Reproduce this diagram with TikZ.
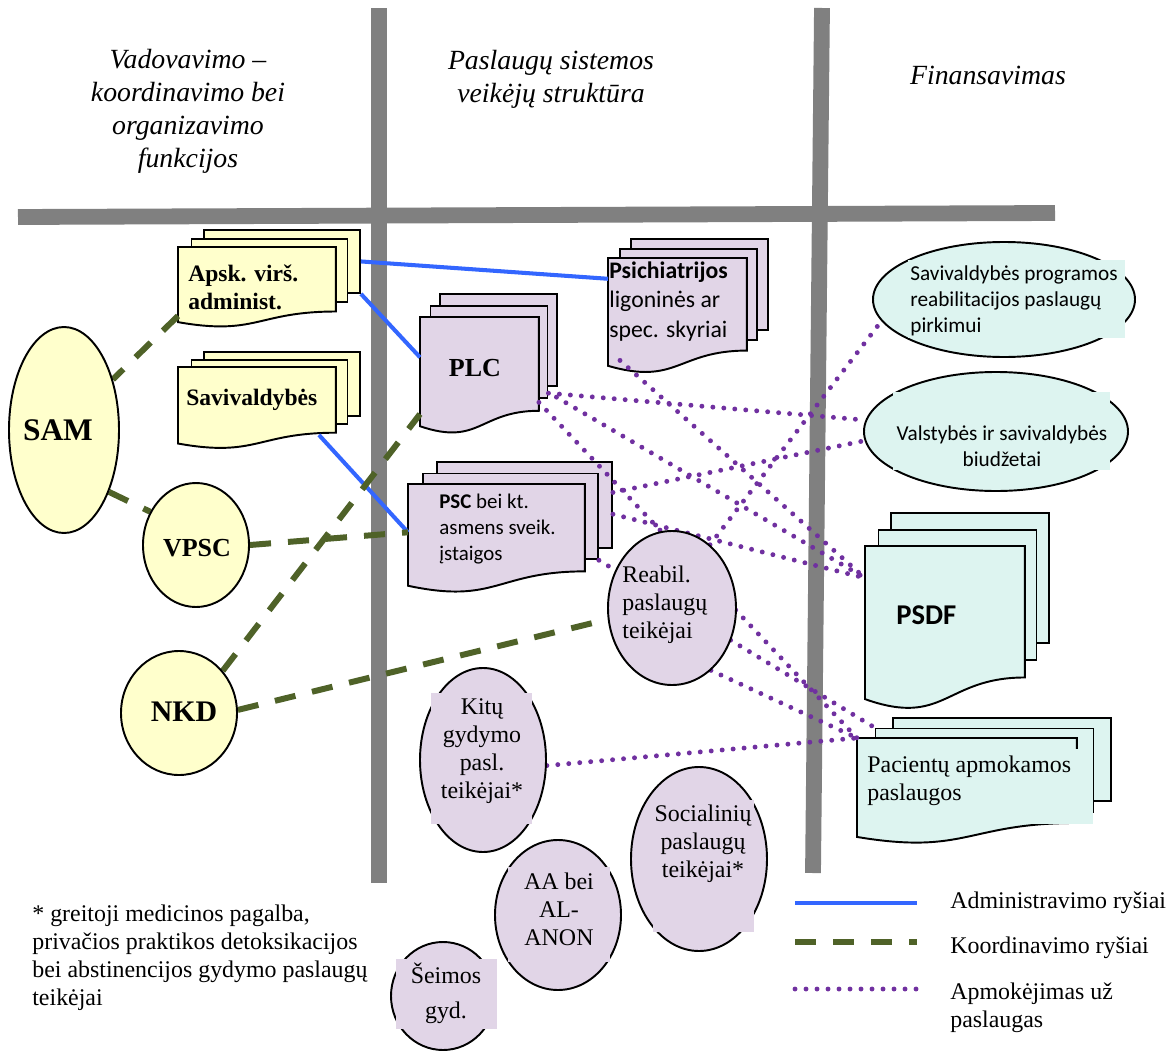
\documentclass[tikz,border=0pt]{standalone}
\usepackage{fontspec}
\setmainfont{Liberation Serif}
\newfontfamily\calibri{Carlito}
\usetikzlibrary{calc,shapes.geometric}
\definecolor{barGray}{HTML}{808080}
\definecolor{adminBlue}{HTML}{3366FF}
\definecolor{coordGreen}{HTML}{4F6228}
\definecolor{payPurple}{HTML}{7030A0}
\definecolor{govFill}{HTML}{FFFFCC}
\definecolor{svcFill}{HTML}{E1D5E7}
\definecolor{finFill}{HTML}{DDF4F0}
\pgfdeclarelayer{back}
\pgfdeclarelayer{mid}
\pgfsetlayers{back,mid,main}
\tikzset{
  bar/.style={draw=barGray, line width=9pt},
  adminline/.style={draw=adminBlue, line width=2.3pt},
  coordline/.style={draw=coordGreen, line width=3.4pt, dash pattern=on 12pt off 9.7pt},
  payline/.style={draw=payPurple, line width=2.8pt, line cap=round, dash pattern=on 0pt off 6.26pt},
  docpage/.style={draw, line width=1.1pt, inner sep=0pt, anchor=north west},
  docline/.style={draw, line width=1.1pt},
  oval/.style={ellipse, draw, line width=1.1pt, inner sep=0pt},
  headtext/.style={font=\itshape\fontsize{15.8}{18.8}\selectfont, align=center, inner sep=0pt},
  boldtext/.style={font=\bfseries\fontsize{13.4}{15.9}\selectfont, align=left, inner sep=0pt},
  plaintext/.style={font=\fontsize{13.6}{15.9}\selectfont, inner sep=0pt},
  calitext/.style={font=\calibri\fontsize{12.1}{14.8}\selectfont, inner sep=0pt},
}
% #1 name, #2 top left of front page, #3 width, #4 height, #5/#6 page shift, #7 fill
\newcommand{\docstack}[7]{%
  \node[docpage, fill=#7, minimum width=#3, minimum height=0.802*#4] (#1-3) at ($#2+(2*#5,2*#6)$) {};
  \node[docpage, fill=#7, minimum width=#3, minimum height=0.802*#4] (#1-2) at ($#2+(#5,#6)$) {};
  \node[docpage, draw=none, minimum width=#3, minimum height=#4] (#1) at #2 {};
  \draw[docline, fill=#7] (#1.north west) -- (#1.north east)
    -- ($(#1.north east)!0.802!(#1.south east)$)
    .. controls ($(#1.north)!0.802!(#1.south)$) and ($(#1.north)!1.1075!(#1.south)$)
    .. ($(#1.north west)!0.934!(#1.south west)$) -- cycle;
}

\begin{document}
\begin{tikzpicture}[x=0.2mm, y=-0.2mm]
  \useasboundingbox (0,0) rectangle (1173,1052);

  \begin{pgfonlayer}{back}
  \fill[white] (0,0) rectangle (1173,1052);
  % column dividers
  \draw[bar] (379,8) -- (379,883);
  \draw[bar] (822,8) -- (813,873);
  \draw[bar] (18,217) -- (1055,213);

  % document stacks
  \docstack{apsk}{(178,247)}{31.2mm}{15.7mm}{12.5}{-9}{govFill}
  \docstack{sav}{(178,367)}{31.2mm}{16mm}{12.5}{-8}{govFill}
  \docstack{plc}{(420,317)}{23.4mm}{23mm}{9.5}{-12}{svcFill}
  \docstack{psy}{(608,258)}{27.4mm}{22.7mm}{11}{-10}{svcFill}
  \docstack{psc}{(408,484)}{35mm}{21.4mm}{14}{-11.5}{svcFill}
  \docstack{psdf}{(865,546)}{31.6mm}{32.4mm}{12.5}{-17}{finFill}
  \docstack{pac}{(857,738)}{43.6mm}{20.8mm}{17.5}{-10.5}{finFill}
  \fill[finFill] (860,749) rectangle (1093,824);
  \end{pgfonlayer}

  \node[headtext] (hd-gov) at (188,111.5) {Vadovavimo –\\koordinavimo bei\\organizavimo\\funkcijos};
  \node[headtext] (hd-svc) at (551,79.5) {Paslaugų sistemos\\veikėjų struktūra};
  \node[headtext] (hd-fin) at (988,75.5) {Finansavimas};

  % ovals
  \node[oval, fill=govFill, minimum width=22mm, minimum height=41.2mm] (sam) at (64,430) {};
  \node[oval, fill=govFill, minimum width=21.2mm, minimum height=24.8mm] (vpsc) at (196,545) {};
  \node[oval, fill=govFill, minimum width=23.2mm, minimum height=24.8mm] (nkd) at (179,713) {};
  \node[oval, fill=svcFill, minimum width=25.6mm, minimum height=30.8mm] (reabil) at (672,608) {};
  \node[oval, fill=svcFill, minimum width=25.2mm, minimum height=36.8mm] (kitu) at (483,760) {};
  \node[oval, fill=svcFill, minimum width=27.2mm, minimum height=36.8mm] (soc) at (699,859) {};
  \node[oval, fill=svcFill, minimum width=25.2mm, minimum height=30mm] (aa) at (558,915) {};
  \node[oval, fill=svcFill, minimum width=20.8mm, minimum height=21.6mm] (seim) at (443,996) {};
  \node[oval, fill=finFill, minimum width=52.4mm, minimum height=23mm] (sp) at (1004,299.5) {};
  \node[oval, fill=finFill, minimum width=52.8mm, minimum height=23.8mm] (val) at (996,431.5) {};
  \fill[svcFill] (431,693) rectangle (532,824);
  \fill[svcFill] (653,800) rectangle (754,932);
  \fill[svcFill] (508,867) rectangle (610,962);
  \fill[svcFill] (396,959) rectangle (497,1029);
  \fill[finFill] (908,260) rectangle (1125,338);
  \fill[finFill] (893,392) rectangle (1110,470);

  % links
  \begin{pgfonlayer}{mid}
  \draw[adminline] (apsk-3.east) -- (psy.152);
  \draw[adminline] (apsk-3.south east) -- (plc.163);
  \draw[adminline] ($(sav.south east)+(-17,-14)$) -- (psc.176);

  \draw[coordline] (apsk.200) -- (sam.46);
  \draw[coordline] (sam.-54) -- (vpsc.144);
  \draw[coordline] (vpsc.east) -- (psc.176);
  \draw[coordline] (nkd.44) -- (plc.213);
  \draw[coordline] (nkd.3) -- (reabil.190);

  \draw[payline] ($(psy.south west)+(12,-13)$) -- (psdf.148);
  \draw[payline] ($(plc-2.south east)+(0,-6)$) -- (val.175);
  \draw[payline] ($(plc-2.south east)+(8,-2)$) -- (psdf.148);
  \draw[payline] ($(plc.north east)!0.73!(plc.south east)$) -- (pac.north west);
  \draw[payline] (reabil.59) -- (sp.190);
  \draw[payline] (psc-3.8) -- (val.184);
  \draw[payline] (psc-3.-6) -- (psdf.148);
  \draw[payline] (psc-2.south east) -- (pac-2.north west);
  \draw[payline] (reabil.-58) -- (pac.north west);
  \draw[payline] (kitu.-5) -- (pac.north west);
  \end{pgfonlayer}

  % labels
  \node[boldtext, anchor=west] (apsk-t) at (188,287) {Apsk. virš.\\administ.};
  \node[boldtext, anchor=west] (sav-t) at (186,399.6) {Savivaldybės};
  \node[font=\bfseries\fontsize{17.9}{20}\selectfont, inner sep=0pt] (sam-t) at (58,430) {SAM};
  \node[font=\bfseries\fontsize{14.8}{17}\selectfont, inner sep=0pt] (vpsc-t) at (197,548) {VPSC};
  \node[font=\bfseries\fontsize{17}{20}\selectfont, inner sep=0pt] (nkd-t) at (184,712) {NKD};
  \node[font=\bfseries\fontsize{14.8}{17}\selectfont, inner sep=0pt] (plc-t) at (475,368) {PLC};
  \node[calitext, font=\calibri\fontsize{13.5}{16.8}\selectfont, align=left, anchor=west] (psy-t) at (609,301.5)
    {\bfseries Psichiatrijos\\ligoninės ar\\spec. skyriai};
  \node[calitext, font=\calibri\fontsize{11.9}{14.8}\selectfont, align=left, anchor=west] (psc-t) at (439,529)
    {{\bfseries PSC} bei kt.\\asmens sveik.\\įstaigos};
  \node[plaintext, align=left, anchor=west] (reabil-t) at (622,605) {Reabil.\\paslaugų\\teikėjai};
  \node[plaintext, align=center] (kitu-t) at (482,751) {Kitų\\gydymo\\pasl.\\teikėjai*};
  \node[plaintext, align=center] (soc-t) at (703,843.5) {Socialinių\\paslaugų\\teikėjai*};
  \node[plaintext, align=center] (aa-t) at (559,909.5) {AA bei\\AL-\\ANON};
  \node[plaintext, font=\fontsize{13.6}{19.9}\selectfont, align=center] (seim-t) at (446,993.5) {Šeimos\\gyd.};
  \node[calitext, align=left, anchor=west] (sp-t) at (910,300.7)
    {Savivaldybės programos\\reabilitacijos paslaugų\\pirkimui};
  \node[calitext, align=center] (val-t) at (1002,445.7) {Valstybės ir savivaldybės\\biudžetai};
  \node[font=\calibri\bfseries\fontsize{16.3}{19}\selectfont, inner sep=0pt, anchor=west] (psdf-t) at (896,615) {PSDF};
  \node[plaintext, align=left, anchor=west] (pac-t) at (867,781) {Pacientų apmokamos\\paslaugos};

  \node[plaintext, align=left, anchor=west] (note) at (32,957.5)
    {* greitoji medicinos pagalba,\\privačios praktikos detoksikacijos\\bei abstinencijos gydymo paslaugų\\teikėjai};

  % legend
  \draw[adminline] (795,903) -- (917,903);
  \draw[coordline] (795,942) -- (917,942);
  \draw[payline] (795,989) -- (917,989);
  \node[plaintext, anchor=west] (lg-admin) at (950,902.6) {Administravimo ryšiai};
  \node[plaintext, anchor=west] (lg-coord) at (950,947.6) {Koordinavimo ryšiai};
  \node[plaintext, align=left, anchor=west] (lg-pay) at (950,1007.5) {Apmokėjimas už\\paslaugas};
\end{tikzpicture}
\end{document}
